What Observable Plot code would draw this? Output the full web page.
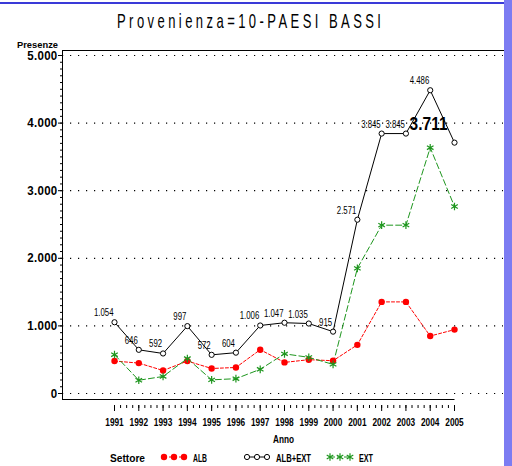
<!DOCTYPE html>
<html><head><meta charset="utf-8">
<script src="https://cdn.jsdelivr.net/npm/d3@7"></script>
<script src="https://cdn.jsdelivr.net/npm/@observablehq/plot@0.6"></script>
<style>
html,body{margin:0;padding:0;background:#fff;}
#wrap{position:relative;width:512px;height:466px;overflow:hidden;background:#fff;}
#wrap > svg{position:absolute;left:0;top:0;}
g[aria-label="y-axis tick label"]{font-size:12.5px;font-weight:bold;letter-spacing:0.3px;}
g[aria-label="x-axis tick label"]{font-size:11.5px;font-weight:bold;}
</style></head><body><div id="wrap"></div>
<script>
const years = [1991,1992,1993,1994,1995,1996,1997,1998,1999,2000,2001,2002,2003,2004,2005];
const alb   = [480,450,340,480,370,385,648,460,500,485,720,1355,1355,850,945];
const ext   = [574,196,252,517,202,219,358,587,535,430,1851,2490,2490,3636,2766];
const tot   = [1054,646,592,997,572,604,1006,1047,1035,915,2571,3845,3845,4486,3711];
const yTicks = [0,1000,2000,3000,4000,5000];
const yMinor = d3.range(0, 5001, 100);
const xMinor = d3.range(1991, 2005.001, 0.25);
const seriesNames = ["ALB","ALB+EXT","EXT"];
const colors = {"ALB":"#ff0000","ALB+EXT":"#000000","EXT":"#1e961e"};
const titleText = "Provenienza=10-PAESI BASSI";

const fmt = d => d3.format(",")(d).replace(/,/g, ".");
const rows = (arr) => years.map((year, i) => ({year, value: arr[i]}));
const albRows = rows(alb), extRows = rows(ext), totRows = rows(tot);
const lastYear = years[years.length - 1];
const FONT = "'Liberation Sans', Arial, sans-serif";

const chart = Plot.plot({
  width: 512, height: 466,
  marginLeft: 62, marginRight: 9, marginTop: 50, marginBottom: 67,
  x: {domain: [years[0], lastYear], range: [114, 454]},
  y: {domain: [0, 5000], range: [393, 55]},
  style: {fontFamily: FONT, background: "transparent", color: "#000"},
  marks: [
    Plot.gridY({ticks: yTicks, stroke: "#000", strokeOpacity: 1, strokeWidth: 1.2, strokeDasharray: "1.2,6.8"}),
    Plot.frame({anchor: "left"}),
    Plot.frame({anchor: "top"}),
    Plot.axisY({ticks: yTicks, tickSize: 4, tickPadding: 1, tickFormat: fmt, label: null}),
    Plot.axisY({ticks: yMinor, tickSize: 2, tickFormat: () => "", label: null}),
    Plot.axisX({ticks: years, tickSize: 6, tickPadding: 6, tickFormat: d => String(d), label: null, dy: 6}),
    Plot.axisX({ticks: xMinor, tickSize: 3, tickFormat: () => "", label: null, dy: 6}),
    Plot.line(albRows, {x: "year", y: "value", stroke: colors["ALB"], strokeWidth: 1, strokeDasharray: "3,2"}),
    Plot.line(extRows, {x: "year", y: "value", stroke: colors["EXT"], strokeWidth: 1, strokeDasharray: "6,3"}),
    Plot.line(totRows, {x: "year", y: "value", stroke: colors["ALB+EXT"], strokeWidth: 1}),
    Plot.dot(albRows, {x: "year", y: "value", r: 3.2, fill: colors["ALB"], stroke: "none"}),
    Plot.dot(extRows, {x: "year", y: "value", r: 3.6, symbol: "asterisk", stroke: colors["EXT"], strokeWidth: 1.2}),
    Plot.dot(totRows, {x: "year", y: "value", r: 2.6, fill: "#fff", stroke: colors["ALB+EXT"], strokeWidth: 1}),
    Plot.text(totRows, {filter: d => d.year !== lastYear, x: "year", y: "value", text: d => fmt(d.value), textAnchor: "end", lineAnchor: "bottom", dx: -1, dy: -6, fontSize: 10, className: "lab-small"}),
    Plot.text(totRows, {filter: d => d.year === lastYear, x: "year", y: "value", text: d => fmt(d.value), textAnchor: "end", lineAnchor: "bottom", dx: -7, dy: -13, fontSize: 18, fontWeight: "bold", className: "lab-big"})
  ]
});
const wrap = document.getElementById("wrap");
wrap.appendChild(chart);

function condense(sel, factor) {
  sel.each(function () {
    const L = this.getComputedTextLength();
    this.setAttribute("textLength", L * factor);
    this.setAttribute("lengthAdjust", "spacingAndGlyphs");
  });
}
condense(d3.select(chart).selectAll(".lab-small text"), 0.78);
condense(d3.select(chart).selectAll(".lab-big text"), 0.86);
condense(d3.select(chart).selectAll('g[aria-label="x-axis tick label"] text'), 0.72);
condense(d3.select(chart).selectAll('g[aria-label="y-axis tick label"] text'), 0.92);

const xs = chart.scale("x"), ys = chart.scale("y");

// overlay: bottom axis line, title, axis titles, legend, window border
const ov = d3.select(wrap).append("svg").attr("width", 512).attr("height", 466)
  .style("pointer-events", "none")
  .attr("font-family", FONT);

ov.append("line").attr("x1", 62).attr("x2", xs.apply(lastYear) + 0.5)
  .attr("y1", ys.apply(0) + 6.5).attr("y2", ys.apply(0) + 6.5).attr("stroke", "#000");

ov.append("line").attr("x1", 0).attr("x2", 504).attr("y1", 3).attr("y2", 3).attr("stroke", "#3a3ad8").attr("stroke-width", 2);
ov.append("rect").attr("x", 504).attr("y", 0).attr("width", 8).attr("height", 466).attr("fill", "#7c7cf2");

const sx = 0.62;
ov.append("g").attr("transform", `translate(117,28) scale(${sx},1)`)
  .append("text").attr("x", 0).attr("y", 0).attr("font-size", 21)
  .attr("textLength", 264 / sx).attr("lengthAdjust", "spacing").text(titleText);

ov.append("text").attr("x", 17).attr("y", 48).attr("font-size", 9.5).attr("font-weight", "bold")
  .attr("textLength", 41).attr("lengthAdjust", "spacingAndGlyphs").text("Presenze");
ov.append("text").attr("x", 273).attr("y", 443).attr("font-size", 11.5).attr("font-weight", "bold")
  .attr("textLength", 21).attr("lengthAdjust", "spacingAndGlyphs").text("Anno");
ov.append("text").attr("x", 110).attr("y", 462).attr("font-size", 11.5).attr("font-weight", "bold")
  .attr("textLength", 35).attr("lengthAdjust", "spacingAndGlyphs").text("Settore");

const legendX = [161, 244, 327];
const labelLen = {"ALB": 14, "ALB+EXT": 35, "EXT": 14};
seriesNames.forEach((name, i) => {
  const x0 = legendX[i], cy = 457, c = colors[name];
  const g = ov.append("g");
  g.append("line").attr("x1", x0 + 3).attr("x2", x0 + 23).attr("y1", cy).attr("y2", cy).attr("stroke", c)
    .attr("stroke-dasharray", name === "ALB" ? "3,2" : name === "EXT" ? "5,2" : null);
  [x0 + 3, x0 + 13, x0 + 23].forEach(cx => {
    if (name === "ALB") g.append("circle").attr("cx", cx).attr("cy", cy).attr("r", 3.2).attr("fill", c);
    else if (name === "ALB+EXT") g.append("circle").attr("cx", cx).attr("cy", cy).attr("r", 2.6).attr("fill", "#fff").attr("stroke", c);
    else g.append("path").attr("transform", `translate(${cx},${cy})`).attr("d", d3.symbol(d3.symbolAsterisk, 40)()).attr("stroke", c).attr("stroke-width", 1.2).attr("fill", "none");
  });
  g.append("text").attr("x", x0 + 32).attr("y", cy + 4.5).attr("font-size", 11.5).attr("font-weight", "bold")
    .attr("textLength", labelLen[name]).attr("lengthAdjust", "spacingAndGlyphs").text(name);
});
</script></body></html>
